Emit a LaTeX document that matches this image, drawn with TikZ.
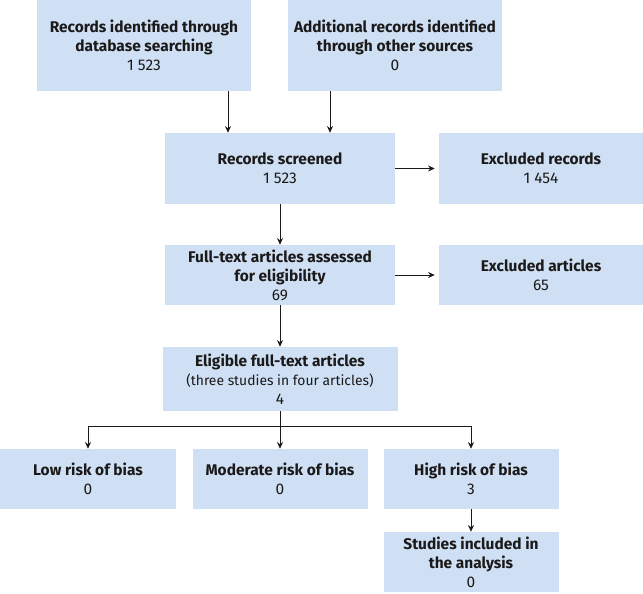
\documentclass[tikz,border=0pt]{standalone}
\usepackage{fontspec}
\setmainfont{Fira Sans}
\usepackage{tikz}
\usetikzlibrary{positioning,arrows.meta,calc}
\definecolor{boxfill}{HTML}{CFE0F4}
\definecolor{ink}{HTML}{1B1919}
\tikzset{
  box/.style={fill=boxfill, draw=none, align=center, inner sep=2pt, text=ink,
    font=\fontsize{11.6pt}{14.25pt}\selectfont},
  arr/.style={-{Stealth[length=5pt, width=4.5pt]}, ink, line width=0.6pt},
  link/.style={ink, line width=0.6pt},
}

\begin{document}
\begin{tikzpicture}[x=0.75pt, y=-0.75pt]
\useasboundingbox (0,0) rectangle (643,593);
% identification
\node[box, minimum width=160.5pt, minimum height=68.25pt] (db) at (144,45.5)
  {\textbf{Records identified through}\\\textbf{database searching}\\1 523};
\node[box, minimum width=160.5pt, minimum height=68.25pt] (other) at (395,45.5)
  {\textbf{Additional records identified}\\\textbf{through other sources}\\0};
% screening
\node[box, minimum width=172.5pt, minimum height=53.25pt] (screen) at (280,168.5)
  {\textbf{Records screened}\\1 523};
\node[box, minimum width=153pt, minimum height=53.25pt] (exrec) at (541,168.5)
  {\textbf{Excluded records}\\1 454};
% eligibility
\node[box, minimum width=172.5pt, minimum height=45pt] (full) at (280,275)
  {\textbf{Full-text articles assessed}\\\textbf{for eligibility}\\69};
\node[box, minimum width=153pt, minimum height=45pt] (exart) at (541,275)
  {\textbf{Excluded articles}\\65};
\node[box, minimum width=176.25pt, minimum height=48pt] (elig) at (280,379)
  {\textbf{Eligible full-text articles}\\{\fontsize{10.4pt}{14.25pt}\selectfont(three studies in four articles)}\\4};
% risk of bias
\node[box, minimum width=132pt, minimum height=45pt] (low) at (88,479)
  {\textbf{Low risk of bias}\\0};
\node[box, minimum width=131.25pt, minimum height=45pt] (mod) at (280,479)
  {\textbf{Moderate risk of bias}\\0};
\node[box, minimum width=131.25pt, minimum height=45pt] (high) at (471,479)
  {\textbf{High risk of bias}\\3};
\node[box, minimum width=131.25pt, minimum height=45pt] (incl) at (471,562)
  {\textbf{Studies included in}\\\textbf{the analysis}\\0};
% connectors
\draw[arr] ([xshift=-39pt]screen.north |- db.south) -- ([xshift=-39pt]screen.north);
\draw[arr] ([xshift=37.5pt]screen.north |- other.south) -- ([xshift=37.5pt]screen.north);
\draw[arr, shorten >=3pt] (screen.east) -- (exrec.west);
\draw[arr, shorten >=3pt] (full.east) -- (exart.west);
\draw[arr] (screen.south) -- (full.north);
\draw[arr] (full.south) -- (elig.north);
\coordinate (split) at (280,426);
\draw[link] (low.north |- split) -- (high.north |- split);
\draw[arr] (elig.south) -- (mod.north);
\draw[arr] (low.north |- split) -- (low.north);
\draw[arr] (high.north |- split) -- (high.north);
\draw[arr] (high.south) -- (incl.north);
\end{tikzpicture}
\end{document}
